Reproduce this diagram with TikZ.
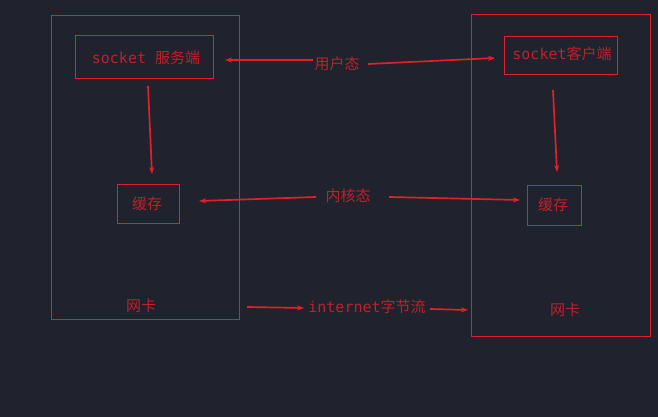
\documentclass[tikz,border=0pt]{standalone}
\usepackage{fontspec}
\setmonofont{DejaVu Sans Mono}
\newfontfamily\cjk{Noto Sans CJK SC}
\usetikzlibrary{arrows.meta}
\definecolor{bg}{HTML}{20232D}
\definecolor{linered}{HTML}{E3202A}
\definecolor{textred}{HTML}{C0202A}
\tikzset{
  px/.style={x=1pt,y=-1pt},
  frame/.style={draw=linered,line width=0.9pt},
  lbl/.style={text=textred,font=\fontsize{15}{17}\selectfont,inner sep=1pt},
  arr/.style={draw=linered,line width=1.7pt,-{Stealth[length=7pt,width=5pt]}}
}
\begin{document}
\begin{tikzpicture}[px]
\fill[bg] (0,0) rectangle (658,417);
\useasboundingbox (0,0) rectangle (658,417);
% outer boxes
\draw[frame] (51,15) rectangle (239,319);
\draw[frame] (471,14) rectangle (650,336);
% inner boxes
\node[frame,minimum width=138pt,minimum height=43pt] (srv) at (144,56.5) {};
\node[lbl] at (146,58) {\ttfamily socket {\cjk 服务端}};
\node[frame,minimum width=113pt,minimum height=38pt] (cli) at (560.5,55) {};
\node[lbl] at (562,54) {\ttfamily socket{\cjk 客户端}};
\node[frame,minimum width=62pt,minimum height=39pt] (cacheL) at (148,203.5) {};
\node[lbl] at (147,204) {\cjk 缓存};
\node[frame,minimum width=54pt,minimum height=40pt] (cacheR) at (554,205) {};
\node[lbl] at (553,205) {\cjk 缓存};
% labels
\node[lbl] (user) at (337,64) {\cjk 用户态};
\node[lbl] (kern) at (348,196) {\cjk 内核态};
\node[lbl] (nicL) at (141,306) {\cjk 网卡};
\node[lbl] (nicR) at (565,310) {\cjk 网卡};
\node[lbl] (inet) at (367,307) {\ttfamily internet{\cjk 字节流}};
% arrow anchor coordinates
\coordinate (u1) at (313,60); \coordinate (u1e) at (225,60);
\coordinate (u2) at (368,64); \coordinate (u2e) at (495,58);
\coordinate (d1) at (148,86); \coordinate (d1e) at (152,174);
\coordinate (d2) at (553,90); \coordinate (d2e) at (557,172);
\coordinate (k1) at (316,197); \coordinate (k1e) at (199,201);
\coordinate (k2) at (389,197); \coordinate (k2e) at (520,200);
\coordinate (i1) at (247,307); \coordinate (i1e) at (304,308);
\coordinate (i2) at (430,309); \coordinate (i2e) at (468,310);
\draw[arr] (u1) -- (u1e);
\draw[arr] (u2) -- (u2e);
\draw[arr] (d1) -- (d1e);
\draw[arr] (d2) -- (d2e);
\draw[arr] (k1) -- (k1e);
\draw[arr] (k2) -- (k2e);
\draw[arr] (i1) -- (i1e);
\draw[arr] (i2) -- (i2e);
\end{tikzpicture}
\end{document}
